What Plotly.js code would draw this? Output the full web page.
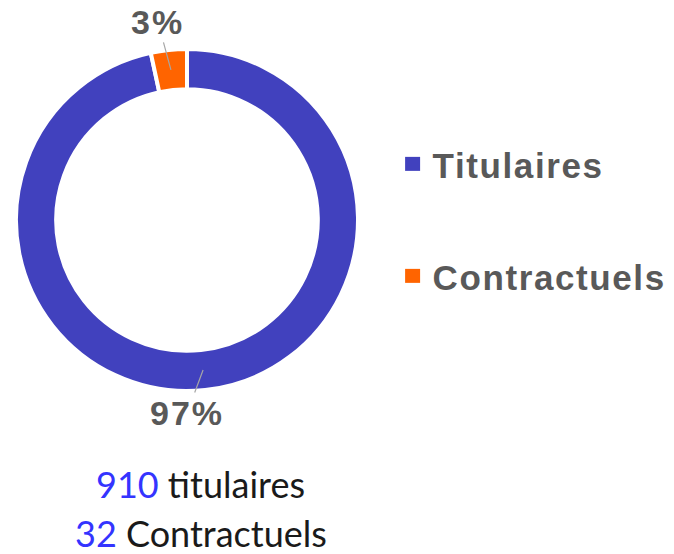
<!DOCTYPE html>
<html>
<head>
<meta charset="utf-8">
<script src="https://cdn.plot.ly/plotly-3.0.1.min.js"></script>
<style>
  html, body { margin: 0; padding: 0; background: #fff; }
  #chart .legendtext { letter-spacing: 1.6px; }
</style>
</head>
<body>
<div id="chart" style="width:674px;height:554px;"></div>
<script>
// Data
const categories = ['Titulaires', 'Contractuels'];
const counts = [910, 32];
const countLabels = ['titulaires', 'Contractuels'];
const colors = ['#4141BE', '#FF6400'];

// Geometry (layout only)
const W = 674, H = 554;
const domX = [0.02374, 0.53116], domY = [0.29422, 0.91155];
const rOuterPx = 171, holeFrac = 0.765;
const labelOffsets = [[-16, 43], [-13, -48]]; // label offsets (px) from slice midpoint

const total = counts.reduce((a, b) => a + b, 0);
const cx = (domX[0] + domX[1]) / 2, cy = (domY[0] + domY[1]) / 2;
const rMid = rOuterPx * (1 + holeFrac) / 2;

let cum = 0;
const pctAnnotations = counts.map((c, i) => {
  const f = c / total;
  const theta = 2 * Math.PI * (cum + f / 2); // clockwise from 12 o'clock
  cum += f;
  return {
    xref: 'paper', yref: 'paper',
    x: cx + rMid * Math.sin(theta) / W,
    y: cy + rMid * Math.cos(theta) / H,
    ax: labelOffsets[i][0], ay: labelOffsets[i][1],
    showarrow: true, arrowhead: 0, arrowwidth: 1.2, arrowcolor: '#a6a6a6', standoff: 0,
    text: '<span style="letter-spacing:2px">' + Math.round(100 * f) + '%</span>',
    font: { family: 'Liberation Sans, Arial, sans-serif', size: 34, color: '#595959', weight: 'bold' }
  };
});

const lineY = [0.0849, -0.0036];
const summaryAnnotations = counts.map((c, i) => ({
  xref: 'paper', yref: 'paper', x: 0.298, y: lineY[i],
  xanchor: 'center', yanchor: 'bottom', showarrow: false, borderpad: 0,
  text: '<span style="color:#3434FF">' + c + '</span> ' + countLabels[i],
  font: { family: 'Lato, sans-serif', size: 36, color: '#1a1a1a' }
}));

const trace = {
  type: 'pie',
  labels: categories,
  values: counts,
  sort: false,
  direction: 'clockwise',
  rotation: 0,
  hole: holeFrac,
  marker: { colors: colors, line: { color: '#ffffff', width: 4 } },
  textinfo: 'none',
  textposition: 'none',
  domain: { x: domX, y: domY },
  hoverinfo: 'label+value+percent'
};

const layout = {
  width: W, height: H,
  margin: { l: 0, r: 0, t: 0, b: 0 },
  paper_bgcolor: '#ffffff',
  showlegend: true,
  legend: {
    x: 0.5825, xanchor: 'left', y: 0.757, yanchor: 'top',
    font: { family: 'Liberation Sans, Arial, sans-serif', size: 35, color: '#595959', weight: 'bold' },
    bgcolor: 'rgba(0,0,0,0)', valign: 'middle'
  },
  annotations: pctAnnotations.concat(summaryAnnotations)
};

Plotly.newPlot('chart', [trace], layout, { staticPlot: true, responsive: false }).then(gd => {
  const legend = gd.querySelector('.legend');
  if (!legend) return;
  legend.querySelectorAll('[clip-path]').forEach(el => el.removeAttribute('clip-path'));
  const items = legend.querySelectorAll('.traces');
  const parse = el => {
    const m = (el.getAttribute('transform') || '').match(/translate\(\s*([-\d.]+)[ ,]+([-\d.]+)\s*\)/);
    return m ? [parseFloat(m[1]), parseFloat(m[2])] : [0, 0];
  };
  if (items.length > 1) {
    const p0 = parse(items[0]), p1 = parse(items[1]);
    items[1].setAttribute('transform', 'translate(' + p1[0] + ',' + (p0[1] + 112) + ')');
  }
  legend.querySelectorAll('.legendpoints path').forEach(p => {
    p.setAttribute('d', 'M7.5,7H-7.5V-7H7.5Z');
    p.style.strokeWidth = '0px';
  });
});
</script>
</body>
</html>
